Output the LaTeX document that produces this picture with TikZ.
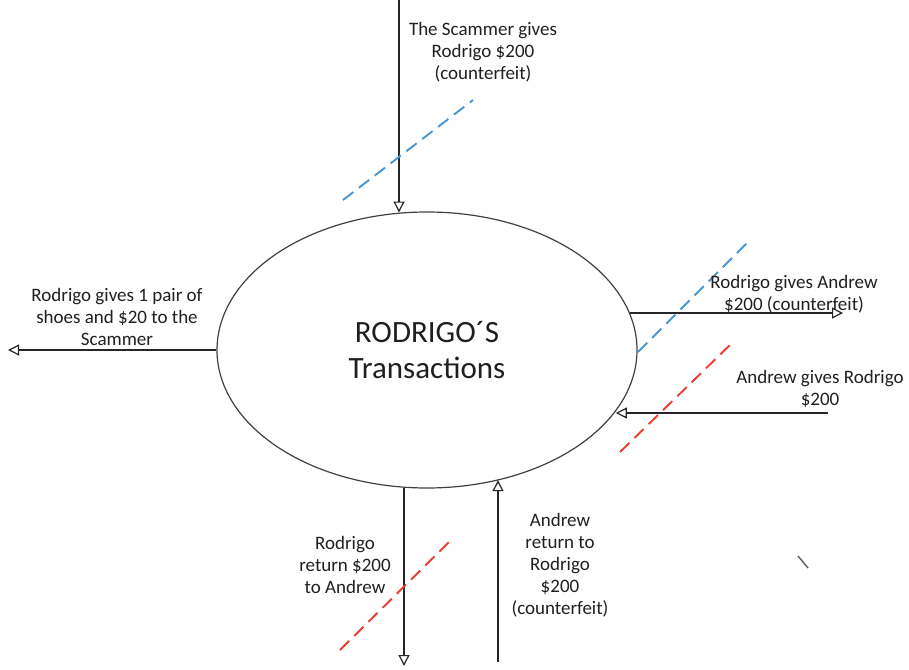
\documentclass[tikz,border=0pt]{standalone}
\usepackage{fontspec}
\setmainfont{Carlito}
\usetikzlibrary{shapes.geometric,arrows.meta}
\definecolor{dblue}{RGB}{70,150,215}
\definecolor{dred}{RGB}{235,60,50}
\tikzset{
  arr/.style={draw=black!85, line width=1.8pt, -{Triangle[open,length=11pt,width=11pt,line width=1.2pt]}},
  lbl/.style={align=center, font=\fontsize{19}{22}\selectfont, text=black!88, inner sep=0pt},
  dsh/.style={line width=1.9pt, dash pattern=on 13pt off 7pt},
}
\begin{document}
\begin{tikzpicture}[x=1pt,y=-1pt]
\useasboundingbox (0,0) rectangle (909,669);
\node[ellipse, draw=black!75, line width=1.2pt, minimum width=420pt, minimum height=276pt, inner sep=0pt,
      align=center, font=\fontsize{31}{36}\selectfont, text=black!88] (e) at (427,350) {RODRIGO´S\\Transactions};

% connectors
\coordinate (t) at (399,0);
\draw[arr] (t) -- (t |- e.101.5);
\coordinate (l) at (8,351);
\draw[arr] (e.west) -- (e.west -| l);
\coordinate (rt) at (843,313);
\draw[arr] (rt -| e.10.4) -- (rt);
\coordinate (rb) at (828,413);
\draw[arr] (rb) -- (rb -| e.-18.6);
\coordinate (bl) at (404,666);
\draw[arr] (bl |- e.-99.5) -- (bl);
\coordinate (br) at (498,662);
\draw[arr] (br) -- (br |- e.-61.4);

% dashed lines
\draw[dsh, dblue] (343,200) -- (473,100);
\draw[dsh, dblue] (638,352) -- (750,240);
\draw[dsh, dred] (620,452) -- (733,342);
\draw[dsh, dred] (340,650) -- (452,539);

% stray mark
\draw[black!60, line width=1.5pt] (798,556) -- (808,568);

% labels
\node[lbl] (l1) at (483,52) {The Scammer gives\\Rodrigo \$200\\(counterfeit)};
\node[lbl] (l2) at (117,317) {Rodrigo gives 1 pair of\\shoes and \$20 to the\\Scammer};
\node[lbl] (l3) at (794,294) {Rodrigo gives Andrew\\\$200 (counterfeit)};
\node[lbl] (l4) at (820,389) {Andrew gives Rodrigo\\\$200};
\node[lbl] (l5) at (345,565) {Rodrigo\\return \$200\\to Andrew};
\node[lbl] (l6) at (560,565) {Andrew\\return to\\Rodrigo\\\$200\\(counterfeit)};
\end{tikzpicture}
\end{document}
